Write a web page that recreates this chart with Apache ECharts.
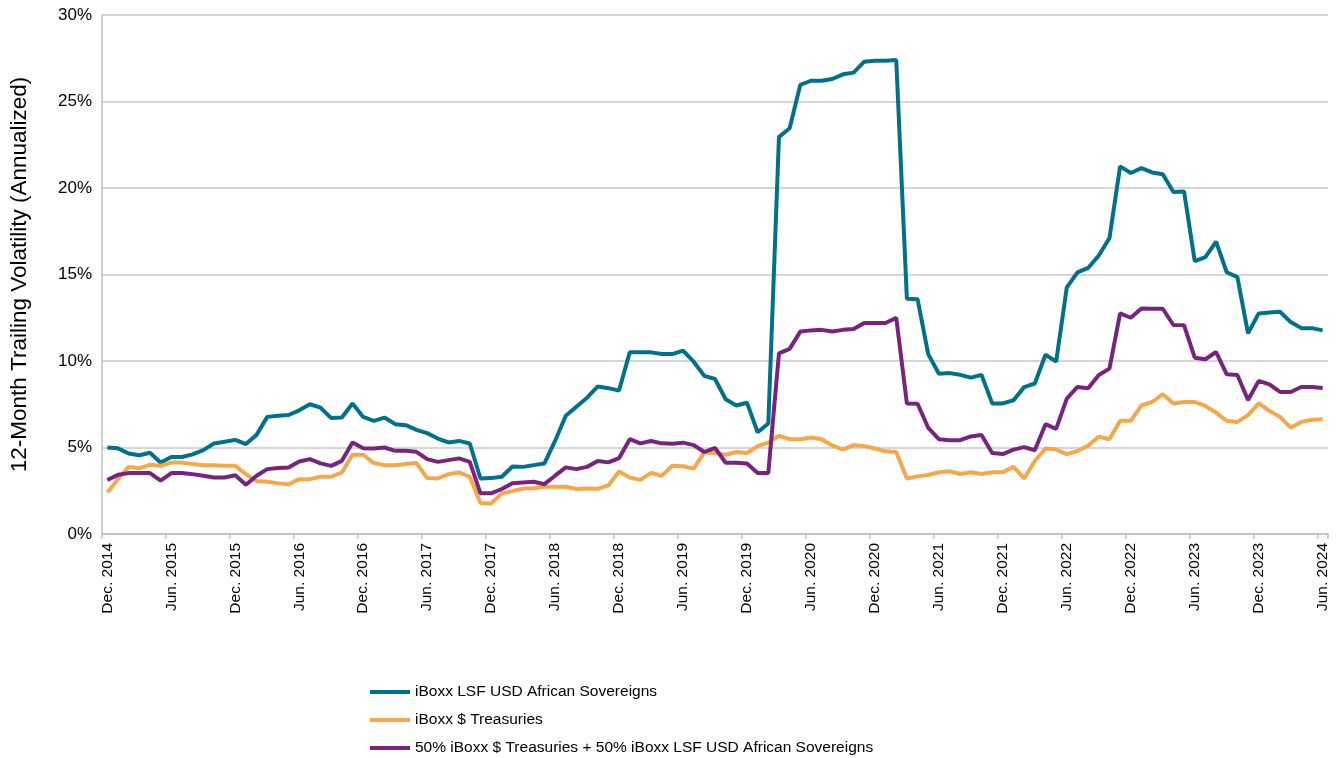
<!DOCTYPE html>
<html>
<head>
<meta charset="utf-8">
<script src="https://cdn.jsdelivr.net/npm/echarts@6.0.0/dist/echarts.min.js"></script>
<style>
  html, body { margin: 0; padding: 0; background: #fff; }
  #chart { width: 1338px; height: 758px; }
</style>
</head>
<body>
<div id="chart"></div>
<script>
// tick labels, one every 6 months (Dec. 2014 .. Jun. 2024)
const tickLabels = [
  'Dec. 2014', 'Jun. 2015', 'Dec. 2015', 'Jun. 2016', 'Dec. 2016',
  'Jun. 2017', 'Dec. 2017', 'Jun. 2018', 'Dec. 2018', 'Jun. 2019',
  'Dec. 2019', 'Jun. 2020', 'Dec. 2020', 'Jun. 2021', 'Dec. 2021',
  'Jun. 2022', 'Dec. 2022', 'Jun. 2023', 'Dec. 2023', 'Jun. 2024'
];

const seriesNames = [
  'iBoxx LSF USD African Sovereigns',
  'iBoxx $ Treasuries',
  '50% iBoxx $ Treasuries + 50% iBoxx LSF USD African Sovereigns'
];

// monthly 12-month trailing volatility, %, Dec. 2014 .. Jun. 2024
const african = [
  5.0, 4.95, 4.65, 4.55, 4.7, 4.13, 4.45, 4.45, 4.6, 4.85,
  5.23, 5.33, 5.44, 5.2, 5.73, 6.77, 6.83, 6.88, 7.15, 7.5,
  7.3, 6.7, 6.73, 7.54, 6.77, 6.54, 6.73, 6.35, 6.29, 6.02,
  5.83, 5.52, 5.29, 5.38, 5.23, 3.21, 3.23, 3.31, 3.9, 3.88,
  3.98, 4.08, 5.38, 6.83, 7.35, 7.88, 8.53, 8.43, 8.29, 10.5,
  10.5, 10.5, 10.4, 10.4, 10.6, 9.96, 9.14, 8.96, 7.79, 7.43,
  7.59, 5.88, 6.39, 22.95, 23.45, 25.96, 26.2, 26.2, 26.3, 26.57,
  26.67, 27.3, 27.36, 27.36, 27.4, 13.6, 13.57, 10.4, 9.26, 9.3,
  9.2, 9.04, 9.2, 7.55, 7.55, 7.73, 8.49, 8.7, 10.36, 9.96,
  14.26, 15.12, 15.38, 16.1, 17.1, 21.25, 20.87, 21.15, 20.9, 20.8,
  19.77, 19.8, 15.77, 16.0, 16.9, 15.13, 14.85, 11.6, 12.75, 12.8,
  12.85, 12.25, 11.9, 11.9, 11.77
];

const treasuries = [
  2.4, 3.17, 3.88, 3.8, 4.0, 3.94, 4.13, 4.13, 4.04, 3.98,
  3.98, 3.94, 3.94, 3.46, 3.06, 3.02, 2.94, 2.87, 3.17, 3.17,
  3.31, 3.31, 3.56, 4.58, 4.58, 4.1, 3.98, 3.98, 4.04, 4.1,
  3.23, 3.21, 3.46, 3.56, 3.31, 1.79, 1.77, 2.35, 2.48, 2.63,
  2.65, 2.73, 2.73, 2.73, 2.6, 2.63, 2.61, 2.81, 3.61, 3.27,
  3.13, 3.53, 3.37, 3.94, 3.92, 3.78, 4.72, 4.68, 4.58, 4.74,
  4.68, 5.08, 5.28, 5.68, 5.48, 5.48, 5.58, 5.48, 5.12, 4.88,
  5.14, 5.08, 4.94, 4.78, 4.74, 3.21, 3.33, 3.41, 3.57, 3.63,
  3.47, 3.57, 3.47, 3.57, 3.57, 3.88, 3.21, 4.22, 4.94, 4.88,
  4.62, 4.8, 5.1, 5.63, 5.48, 6.54, 6.54, 7.44, 7.63, 8.08,
  7.54, 7.63, 7.63, 7.4, 7.02, 6.54, 6.48, 6.87, 7.56, 7.12,
  6.77, 6.15, 6.48, 6.6, 6.63
];

const blend = [
  3.12, 3.42, 3.52, 3.52, 3.52, 3.08, 3.52, 3.52, 3.46, 3.37,
  3.27, 3.27, 3.4, 2.85, 3.37, 3.75, 3.81, 3.85, 4.19, 4.33,
  4.08, 3.94, 4.23, 5.29, 4.96, 4.94, 5.0, 4.81, 4.81, 4.75,
  4.33, 4.17, 4.27, 4.37, 4.17, 2.35, 2.35, 2.6, 2.94, 2.98,
  3.02, 2.88, 3.37, 3.85, 3.75, 3.88, 4.22, 4.14, 4.38, 5.48,
  5.24, 5.38, 5.24, 5.22, 5.28, 5.14, 4.74, 4.98, 4.12, 4.12,
  4.08, 3.53, 3.53, 10.44, 10.7, 11.7, 11.77, 11.8, 11.7, 11.8,
  11.85, 12.2, 12.2, 12.2, 12.5, 7.55, 7.53, 6.14, 5.48, 5.42,
  5.42, 5.64, 5.72, 4.68, 4.62, 4.88, 5.02, 4.84, 6.35, 6.08,
  7.83, 8.5, 8.42, 9.19, 9.56, 12.75, 12.5, 13.04, 13.02, 13.02,
  12.08, 12.06, 10.19, 10.1, 10.52, 9.23, 9.19, 7.75, 8.85, 8.65,
  8.21, 8.21, 8.5, 8.5, 8.44
];

const colors = ['#00718b', '#f5a84b', '#77237f'];
const font = "'Liberation Sans', Arial, sans-serif";

// one category per month, starting Dec. 2014
const monthAbbr = ['Jan.', 'Feb.', 'Mar.', 'Apr.', 'May', 'Jun.', 'Jul.', 'Aug.', 'Sep.', 'Oct.', 'Nov.', 'Dec.'];
const months = african.map((_, i) => {
  const m = 11 + i;
  return monthAbbr[m % 12] + ' ' + (2014 + Math.floor(m / 12));
});

const chart = echarts.init(document.getElementById('chart'));

chart.setOption({
  animation: false,
  color: colors,
  grid: { left: 97, right: 10, top: 15, bottom: 224 },
  xAxis: {
    type: 'category',
    data: months,
    boundaryGap: true,
    axisLine: { lineStyle: { color: '#bfbfbf', width: 1.5 } },
    axisTick: { show: true, interval: 5, length: 5, lineStyle: { color: '#bfbfbf', width: 1.5 } },
    splitLine: { show: false },
    axisLabel: {
      interval: 5,
      rotate: 90,
      margin: 9,
      color: '#000',
      fontFamily: font,
      fontSize: 15.5,
      formatter: (v, idx) => tickLabels[idx / 6] || v
    }
  },
  yAxis: {
    type: 'value',
    min: 0,
    max: 30,
    interval: 5,
    name: '12-Month Trailing Volatility (Annualized)',
    nameLocation: 'middle',
    nameGap: 71,
    nameTextStyle: { color: '#000', fontFamily: font, fontSize: 22.5 },
    axisLine: { show: true, lineStyle: { color: '#bfbfbf', width: 1.5 } },
    axisTick: { show: false },
    splitLine: { lineStyle: { color: '#c8c8c8', width: 1.5 } },
    axisLabel: {
      margin: 10,
      color: '#000',
      fontFamily: font,
      fontSize: 17,
      formatter: '{value}%'
    }
  },
  // one legend block per row so the items stack like the original
  legend: seriesNames.map((name, i) => ({
    left: 365,
    top: 679 + i * 28,
    icon: 'rect',
    itemWidth: 40,
    itemHeight: 4,
    textStyle: { color: '#000', fontFamily: font, fontSize: 15.5 },
    data: [name]
  })),
  series: [african, treasuries, blend].map((arr, i) => ({
    name: seriesNames[i],
    type: 'line',
    symbol: 'none',
    data: arr,
    lineStyle: { width: 4, color: colors[i] },
    itemStyle: { color: colors[i] }
  }))
});
</script>
</body>
</html>
